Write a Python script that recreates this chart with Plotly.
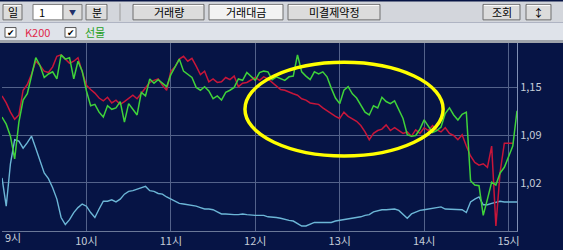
import plotly.graph_objects as go
import pandas as pd

# ---------------- data (3-minute samples from 09:00) ----------------
session_start = "2024-01-02 09:00"
sample_step = "3min"

k200 = [1.143, 1.133, 1.120, 1.110, 1.116, 1.151, 1.159, 1.174, 1.192, 1.186,
        1.178, 1.176, 1.184, 1.199, 1.201, 1.195, 1.189, 1.192, 1.197, 1.177,
        1.158, 1.152, 1.147, 1.140, 1.136, 1.141, 1.133, 1.137, 1.131, 1.135,
        1.140, 1.144, 1.139, 1.147, 1.155, 1.162, 1.165, 1.167, 1.158, 1.151,
        1.178, 1.184, 1.195, 1.199, 1.192, 1.196, 1.185, 1.173, 1.178, 1.163,
        1.167, 1.162, 1.163, 1.169, 1.166, 1.171, 1.156, 1.161, 1.162, 1.165,
        1.169, 1.165, 1.170, 1.167, 1.162, 1.156, 1.152, 1.151, 1.148, 1.146,
        1.144, 1.139, 1.137, 1.133, 1.132, 1.131, 1.126, 1.122, 1.117, 1.114,
        1.111, 1.120, 1.114, 1.111, 1.107, 1.101, 1.092, 1.081, 1.090, 1.094,
        1.096, 1.102, 1.094, 1.098, 1.094, 1.090, 1.092, 1.086, 1.095, 1.090,
        1.098, 1.094, 1.101, 1.095, 1.092, 1.098, 1.090, 1.087, 1.081, 1.088,
        1.072, 1.058, 1.049, 1.045, 1.047, 1.042, 1.072, 0.959, 1.035, 1.076,
        1.076, 1.076]

futures = [1.113, 1.103, 1.086, 1.054, 1.106, 1.137, 1.146, 1.170, 1.197, 1.186,
           1.169, 1.174, 1.177, 1.167, 1.201, 1.195, 1.197, 1.167, 1.192, 1.178,
           1.150, 1.129, 1.131, 1.120, 1.113, 1.129, 1.124, 1.126, 1.135, 1.106,
           1.132, 1.124, 1.116, 1.148, 1.143, 1.167, 1.161, 1.166, 1.161, 1.156,
           1.173, 1.185, 1.195, 1.178, 1.173, 1.169, 1.155, 1.151, 1.156, 1.150,
           1.139, 1.143, 1.137, 1.148, 1.151, 1.155, 1.167, 1.165, 1.176, 1.170,
           1.165, 1.176, 1.178, 1.177, 1.166, 1.170, 1.167, 1.165, 1.170, 1.171,
           1.201, 1.177, 1.171, 1.166, 1.177, 1.174, 1.177, 1.170, 1.154, 1.140,
           1.132, 1.151, 1.156, 1.146, 1.140, 1.129, 1.120, 1.116, 1.129, 1.126,
           1.141, 1.135, 1.132, 1.136, 1.124, 1.111, 1.088, 1.086, 1.087, 1.096,
           1.109, 1.099, 1.091, 1.094, 1.099, 1.118, 1.126, 1.116, 1.109, 1.117,
           1.120, 1.023, 1.017, 1.016, 0.974, 0.997, 1.021, 1.017, 1.034, 1.042,
           1.056, 1.072, 1.122]

third_line = [1.027, 0.987, 1.047, 1.081, 1.079, 1.069, 1.077, 1.086, 1.069, 1.051,
              1.034, 1.026, 1.013, 0.997, 0.971, 0.961, 0.968, 0.978, 0.985, 0.990,
              0.987, 0.978, 0.971, 0.983, 0.994, 0.994, 0.996, 0.993, 0.997, 1.004,
              1.008, 1.009, 1.011, 1.012, 1.015, 1.009, 1.008, 1.005, 1.004, 1.000,
              0.997, 0.994, 0.991, 0.990, 0.989, 0.989, 0.987, 0.985, 0.983, 0.983,
              0.982, 0.979, 0.976, 0.976, 0.975, 0.975, 0.975, 0.976, 0.975, 0.974,
              0.974, 0.974, 0.974, 0.972, 0.972, 0.971, 0.970, 0.968, 0.967, 0.966,
              0.963, 0.959, 0.959, 0.961, 0.964, 0.964, 0.964, 0.964, 0.964, 0.966,
              0.967, 0.968, 0.968, 0.970, 0.971, 0.972, 0.974, 0.975, 0.979, 0.981,
              0.982, 0.982, 0.983, 0.983, 0.981, 0.976, 0.970, 0.976, 0.979, 0.981,
              0.982, 0.983, 0.983, 0.985, 0.986, 0.983, 0.983, 0.983, 0.983, 0.982,
              0.978, 0.993, 0.997, 1.000, 0.989, 0.989, 0.991, 0.993, 0.994, 0.993,
              0.993, 0.993, 0.993]

hour_ticks = ["2024-01-02 10:00", "2024-01-02 11:00", "2024-01-02 12:00",
              "2024-01-02 13:00", "2024-01-02 14:00", "2024-01-02 15:00"]
hour_labels = ["10시", "11시", "12시", "13시", "14시", "15시"]
first_hour_label = "9시"
y_tickvals = [1.155, 1.0875, 1.02]
y_ticktext = ["1,15", "1,09", "1,02"]
series_names = ["K200", "선물"]
buttons = ["일", "분", "거래량", "거래대금", "미결제약정", "조회"]

# ---------------- layout geometry ----------------
W, H = 563, 250
ML, MR, MT, MB = 2, 46, 43, 12
PW, PH = W - ML - MR, H - MT - MB
NAVY = "#061445"
GRID = "#53628a"
FONT = "Noto Sans CJK KR, Noto Sans, DejaVu Sans"


def px(x):
    return (x - ML) / PW


def py(y):
    return (H - MB - y) / PH


shapes = []
annotations = []


def rect(x0, y0, x1, y1, fill, line=None, lw=1):
    shapes.append(dict(type="rect", xref="paper", yref="paper",
                       x0=px(x0), x1=px(x1), y0=py(y1), y1=py(y0),
                       fillcolor=fill,
                       line=dict(color=line if line else fill, width=lw if line else 0),
                       layer="above"))


def text(x, y, s, color="#000000", size=11, xanchor="center", bold=False):
    annotations.append(dict(xref="paper", yref="paper", x=px(x), y=py(y),
                            text=("<b>%s</b>" % s) if bold else s, showarrow=False,
                            xanchor=xanchor, yanchor="middle",
                            font=dict(family=FONT, size=size, color=color)))


def button(x0, x1, label, fill="#dcdcdc"):
    rect(x0, 3, x1, 19, fill, "#6e6e6e", 1)
    shapes.append(dict(type="line", xref="paper", yref="paper",
                       x0=px(x0 + 1), x1=px(x1 - 1), y0=py(4), y1=py(4),
                       line=dict(color="#ffffff", width=1), layer="above"))
    text((x0 + x1) / 2, 11, label, size=11)


# toolbar rows
rect(0, 0, W, 22, "#d3d6dc")
rect(0, 22, W, 40, "#dfe3ea")
rect(0, 40, W, 43, "#9ea3ab")

button(3, 22, buttons[0])
rect(33, 3, 63, 19, "#ffffff", "#7a7a7a", 1)
text(37, 11, "1", size=11, xanchor="left")
rect(63, 3, 82, 19, "#dcdcdc", "#7a7a7a", 1)
text(72.5, 11, "▼", color="#22306a", size=7)
button(86, 107, buttons[1])
shapes.append(dict(type="line", xref="paper", yref="paper", x0=px(120), x1=px(120),
                   y0=py(2), y1=py(20), line=dict(color="#9a9a9a", width=1), layer="above"))
button(133, 204, buttons[2])
button(209, 283, buttons[3], fill="#f2f2f2")
button(288, 380, buttons[4])
button(483, 520, buttons[5])
button(526, 551, "↕")

# legend checkboxes
for cx, label, col in [(5, series_names[0], "#e0284a"), (65, series_names[1], "#1fa01f")]:
    rect(cx, 27, cx + 11, 37, "#ffffff", "#555555", 1)
    text(cx + 5.5, 32, "✔", size=9)
    text(cx + 18, 32, label, color=col, size=11, xanchor="left")

# first hour label (sits against the left edge)
text(3, 244, first_hour_label, color="#c4ccd8", size=11, xanchor="left")

# ---------------- traces ----------------
t_third = pd.date_range(session_start, periods=len(third_line), freq=sample_step)
t_red = pd.date_range(session_start, periods=len(k200), freq=sample_step)
t_green = pd.date_range(session_start, periods=len(futures), freq=sample_step)

fig = go.Figure()
fig.add_trace(go.Scatter(x=t_third, y=third_line, mode="lines",
                         line=dict(color="#6cb6d6", width=1.4), showlegend=False))
fig.add_trace(go.Scatter(x=t_red, y=k200, mode="lines", name=series_names[0],
                         line=dict(color="#c8163a", width=1.5), showlegend=False))
fig.add_trace(go.Scatter(x=t_green, y=futures, mode="lines", name=series_names[1],
                         line=dict(color="#3fd23a", width=1.5), showlegend=False))

# highlight ellipse
shapes.append(dict(type="circle", xref="x", yref="y",
                   x0="2024-01-02 11:52:40", x1="2024-01-02 14:13:30",
                   y0=1.058, y1=1.1905,
                   line=dict(color="#ffff00", width=3.5), layer="above"))

fig.update_layout(
    width=W, height=H,
    margin=dict(l=ML, r=MR, t=MT, b=MB, pad=0),
    paper_bgcolor=NAVY, plot_bgcolor=NAVY,
    shapes=shapes, annotations=annotations,
    font=dict(family=FONT),
    xaxis=dict(type="date", range=["2024-01-02 09:00", "2024-01-02 15:06"],
               tickvals=hour_ticks, ticktext=hour_labels,
               showgrid=True, gridcolor=GRID, gridwidth=1,
               showline=True, linecolor="#6a7898", linewidth=1,
               zeroline=False, ticks="",
               tickfont=dict(color="#c4ccd8", size=11, family=FONT)),
    yaxis=dict(side="right", range=[0.9519, 1.2178],
               tickvals=y_tickvals, ticktext=y_ticktext,
               showgrid=True, gridcolor=GRID, gridwidth=1,
               showline=True, linecolor="#8090b4", linewidth=1,
               zeroline=False, ticks="",
               tickfont=dict(color="#c4ccd8", size=11, family=FONT)),
)

fig.write_html("out.html", config={"displayModeBar": False},
               post_script="document.body.style.margin='0';")
